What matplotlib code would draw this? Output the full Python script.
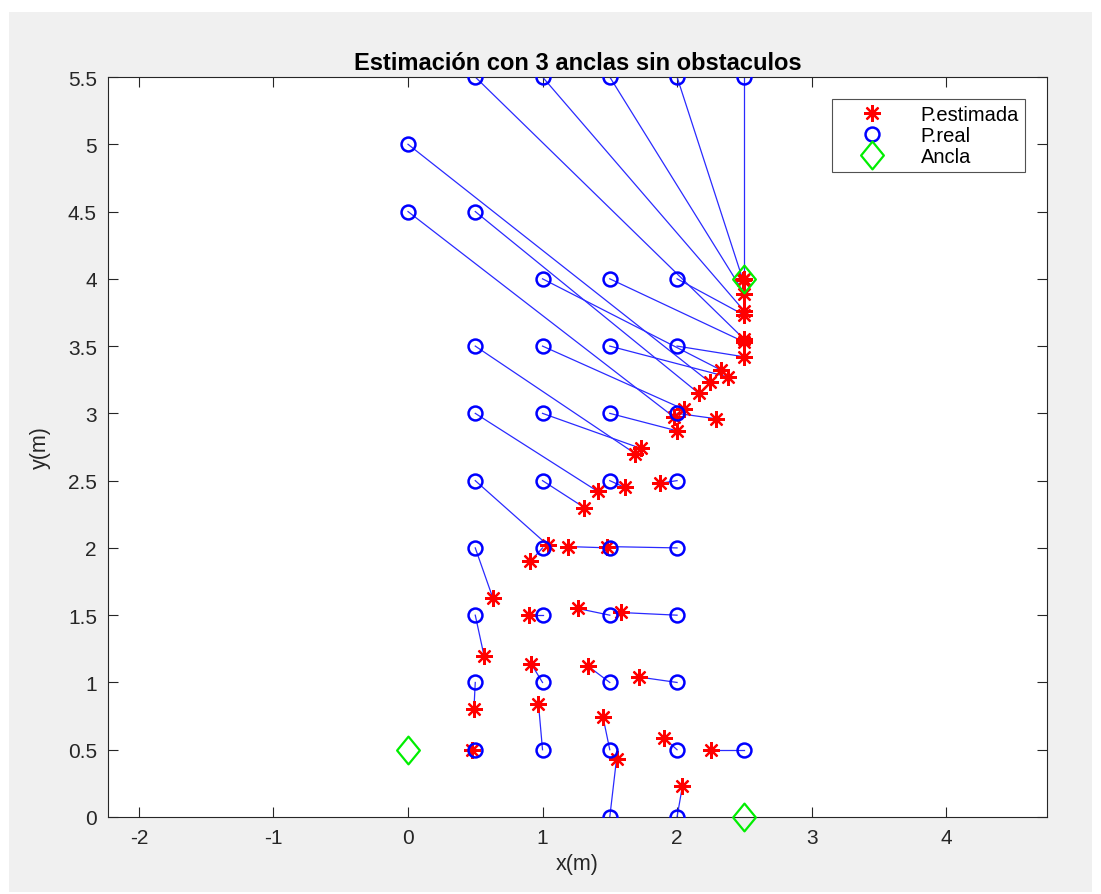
import matplotlib
matplotlib.use("Agg")
import matplotlib.pyplot as plt
from matplotlib.patches import Rectangle
from matplotlib.path import Path

plt.rcParams['font.family'] = ['Liberation Sans', 'DejaVu Sans']
plt.rcParams['axes.unicode_minus'] = False

# real positions (blue circles)
real_x = [0.5, 1.0, 1.5, 2.0, 2.5,
          0.0,
          0.0, 0.5,
          1.0, 1.5, 2.0,
          0.5, 1.0, 1.5, 2.0,
          0.5, 1.0, 1.5, 2.0,
          0.5, 1.0, 1.5, 2.0,
          0.5, 1.0, 1.5, 2.0,
          0.5, 1.0, 1.5, 2.0,
          0.5, 1.0, 1.5, 2.0,
          0.5, 1.0, 1.5, 2.0, 2.5,
          1.5, 2.0]
real_y = [5.5, 5.5, 5.5, 5.5, 5.5,
          5.0,
          4.5, 4.5,
          4.0, 4.0, 4.0,
          3.5, 3.5, 3.5, 3.5,
          3.0, 3.0, 3.0, 3.0,
          2.5, 2.5, 2.5, 2.5,
          2.0, 2.0, 2.0, 2.0,
          1.5, 1.5, 1.5, 1.5,
          1.0, 1.0, 1.0, 1.0,
          0.5, 0.5, 0.5, 0.5, 0.5,
          0.0, 0.0]

# estimated positions (red stars), same order as the real ones
est_x = [2.50, 2.50, 2.50, 2.49, 2.50,
         2.245,
         1.98, 2.16,
         2.33, 2.50, 2.50,
         1.69, 2.05, 2.38, 2.50,
         1.41, 1.73, 2.00, 2.29,
         1.04, 1.31, 1.61, 1.87,
         0.63, 0.91, 1.19, 1.48,
         0.565, 0.90, 1.26, 1.58,
         0.49, 0.915, 1.34, 1.72,
         0.475, 0.97, 1.45, 1.90, 2.25,
         1.55, 2.04]
est_y = [3.55, 3.76, 3.89, 3.99, 4.00,
         3.23,
         2.97, 3.15,
         3.32, 3.53, 3.73,
         2.70, 3.03, 3.27, 3.42,
         2.42, 2.74, 2.87, 2.96,
         2.02, 2.30, 2.45, 2.48,
         1.63, 1.90, 2.01, 2.01,
         1.20, 1.50, 1.55, 1.52,
         0.80, 1.14, 1.12, 1.04,
         0.50, 0.84, 0.74, 0.59, 0.50,
         0.43, 0.23]

anchor_x = [0.0, 2.5, 2.5]
anchor_y = [0.5, 0.0, 4.0]

legend_labels = ["P.estimada", "P.real", "Ancla"]

W, H = 1101, 895
fig = plt.figure(figsize=(W / 100, H / 100), dpi=100, facecolor='white')

# MATLAB-like grey figure panel, behind everything
bg = fig.add_axes([0, 0, 1, 1], zorder=-10)
bg.set_axis_off()
bg.add_patch(Rectangle((9 / W, 2 / H), 1083 / W, 880 / H, transform=bg.transAxes,
                       facecolor='#f0f0f0', edgecolor='none'))

ax = fig.add_axes([108 / W, 1 - 818 / H, 939 / W, 740 / H])
ax.set_facecolor('white')

dark = '#262626'
asterisk = (8, 2, 0)
diamond = Path([(0, 1), (0.82, 0), (0, -1), (-0.82, 0), (0, 1)],
               [Path.MOVETO, Path.LINETO, Path.LINETO, Path.LINETO, Path.CLOSEPOLY])

for xr, yr, xe, ye in zip(real_x, real_y, est_x, est_y):
    ax.plot([xr, xe], [yr, ye], color='#2a2aff', lw=0.9, zorder=2)

h_est, = ax.plot(est_x, est_y, ls='none', marker=asterisk, ms=12,
                 mec='#ff0000', mew=1.6, zorder=3)
h_real, = ax.plot(real_x, real_y, ls='none', marker='o', ms=10, mfc='none',
                  mec='#0000ff', mew=1.8, zorder=4)
h_anc, = ax.plot(anchor_x, anchor_y, ls='none', marker=diamond, ms=20,
                 mfc='none', mec='#00ee00', mew=1.6, zorder=5, clip_on=False)

ax.set_xlim(-2.23, 4.75)
ax.set_ylim(0, 5.5)
ax.set_xticks([-2, -1, 0, 1, 2, 3, 4])
ax.set_yticks([0, 0.5, 1, 1.5, 2, 2.5, 3, 3.5, 4, 4.5, 5, 5.5])
ax.set_yticklabels(['0', '0.5', '1', '1.5', '2', '2.5', '3', '3.5', '4', '4.5', '5', '5.5'])
ax.tick_params(direction='in', length=7, width=0.8, top=True, right=True,
               labelsize=15, colors=dark, pad=8)
for sp in ax.spines.values():
    sp.set_color(dark)
    sp.set_linewidth(0.8)

ax.set_title("Estimación con 3 anclas sin obstaculos", fontsize=17,
             fontweight='bold', color='black', pad=6)
ax.set_xlabel("x(m)", fontsize=15.5, color=dark, labelpad=4)
ax.set_ylabel("y(m)", fontsize=15.5, color=dark, labelpad=12)

leg = ax.legend([h_est, h_real, h_anc], legend_labels, loc='upper right',
                bbox_to_anchor=(0.9766, 0.970), borderaxespad=0, fontsize=14.5,
                frameon=True, fancybox=False, handlelength=3.4, handletextpad=0.7,
                labelspacing=0.1, borderpad=0.3, markerscale=1.0)
leg.get_frame().set_edgecolor(dark)
leg.get_frame().set_linewidth(0.8)

fig.savefig("out.png", dpi=100, facecolor=fig.get_facecolor())
